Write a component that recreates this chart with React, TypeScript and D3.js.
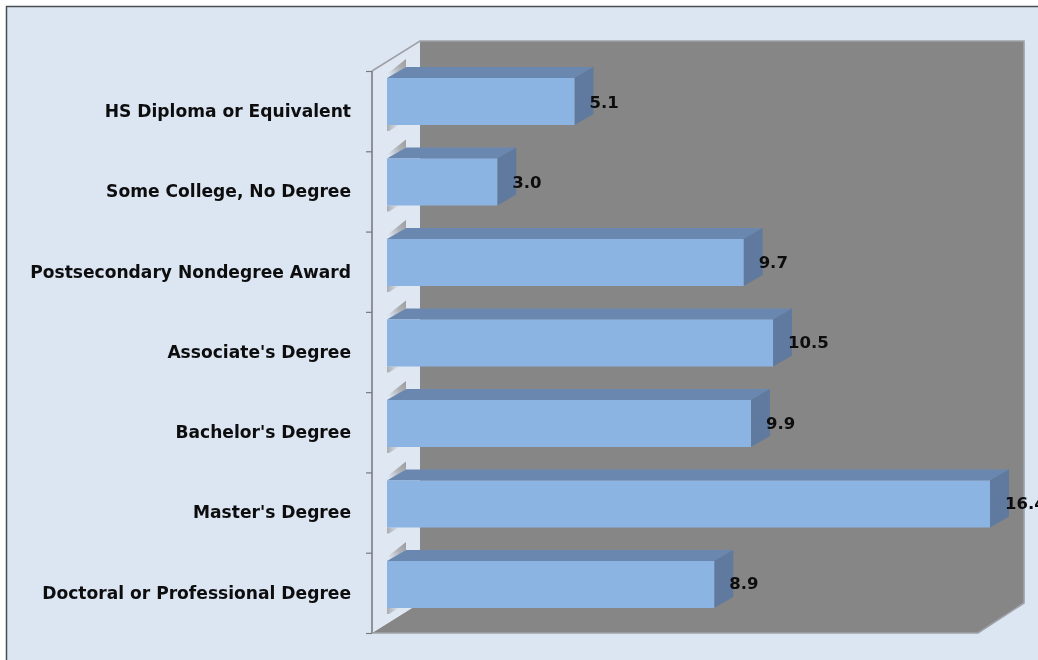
import React from "react";
import * as d3 from "d3";

const categories = [
  "HS Diploma or Equivalent",
  "Some College, No Degree",
  "Postsecondary Nondegree Award",
  "Associate's Degree",
  "Bachelor's Degree",
  "Master's Degree",
  "Doctoral or Professional Degree",
];
const values = [5.1, 3.0, 9.7, 10.5, 9.9, 16.4, 8.9];
const labels = ["5.1", "3.0", "9.7", "10.5", "9.9", "16.4", "8.9"];

const W = 1038, H = 660;
const FONT = "'DejaVu Sans', Verdana, sans-serif";

export default function App() {
  const x = d3.scaleLinear().domain([0, 16.4]).range([387, 990]);
  const bandAxis = d3.scaleBand<string>().domain(categories).range([71, 633]);
  const bandBars = d3.scaleBand<string>().domain(categories).range([71, 634.5]);
  const barH = 47, dx = 19, dy = 11;
  const poly = (pts: number[][]) => d3.line()(pts as [number, number][]) + "Z";
  const ticks = [...categories.map((c) => bandAxis(c)!), 633];

  return (
    <svg width={W} height={H} style={{ position: "absolute", left: 0, top: 0 }}>
      <defs>
        <linearGradient id="sh" x1="0" y1="1" x2="1" y2="0">
          <stop offset="0.15" stopColor="#dfe7f3" />
          <stop offset="0.6" stopColor="#b0b2b6" />
          <stop offset="1" stopColor="#999a9c" />
        </linearGradient>
        <linearGradient id="sh2" x1="0" y1="0" x2="1" y2="0">
          <stop offset="0" stopColor="#a9acb0" />
          <stop offset="1" stopColor="#dfe7f3" />
        </linearGradient>
        <filter id="soft" x="-2%" y="-2%" width="104%" height="104%">
          <feGaussianBlur stdDeviation="0.45" />
        </filter>
      </defs>
      <rect x={0} y={0} width={W} height={H} fill="#ffffff" />
      <rect x={6} y={6} width={W - 6} height={H - 6} fill="#dce6f2" />
      <path d={`M6.5,${H}V6.5H${W}`} fill="none" stroke="#4a4d52" strokeWidth={1.5} />

      <g filter="url(#soft)">
        <rect x={420} y={41} width={604} height={562} fill="#868686" />
        <path d={poly([[372, 633], [420, 603], [1024, 603], [978, 633]])} fill="#868686" />
        <path d={poly([[372, 71], [420, 41], [420, 603], [372, 633]])} fill="#dfe7f3" />
        <path d="M372,71L420,41H1024V603L978,633H372" fill="none" stroke="#9ea2a8" strokeWidth={1.6} />
        <path d="M372,71V633" fill="none" stroke="#85898f" strokeWidth={1.8} />
        {ticks.map((t, i) => (
          <path key={i} d={`M366,${t + 0.5}H372`} stroke="#777b80" strokeWidth={1.2} />
        ))}

        {categories.map((c, i) => {
          const y0 = bandBars(c)! + 7;
          const x0 = x(0), x1 = x(values[i]);
          return (
            <g key={c}>
              <path d={poly([[x0, y0 - 4], [x0 + dx, y0 - dy - 8], [x0 + dx, y0 - dy], [x0, y0 + 2]])} fill="url(#sh)" />
              <path d={poly([[x0, y0 + barH], [x0 + 12, y0 + barH], [x0 + 2, y0 + barH + 6], [x0, y0 + barH + 6]])} fill="url(#sh2)" />
              <path d={poly([[x0, y0], [x0 + dx, y0 - dy], [x1 + dx, y0 - dy], [x1, y0]])} fill="#6a87af" />
              <path d={poly([[x1, y0], [x1 + dx, y0 - dy], [x1 + dx, y0 + barH - dy], [x1, y0 + barH]])} fill="#5f7a9e" />
              <rect x={x0} y={y0} width={x1 - x0} height={barH} fill="#8bb4e3" />
            </g>
          );
        })}

        {categories.map((c) => (
          <text
            key={c}
            x={351}
            y={bandAxis(c)! + 41}
            textAnchor="end"
            dominantBaseline="middle"
            fontFamily={FONT}
            fontWeight={700}
            fontSize={17.1}
            fill="#0c0c10"
          >
            {c}
          </text>
        ))}
        {categories.map((c, i) => (
          <text
            key={c + "v"}
            x={x(values[i]) + 15}
            y={bandAxis(c)! + 32}
            dominantBaseline="middle"
            fontFamily={FONT}
            fontWeight={700}
            fontSize={16.5}
            fill="#0c0c10"
          >
            {labels[i]}
          </text>
        ))}
      </g>
    </svg>
  );
}
